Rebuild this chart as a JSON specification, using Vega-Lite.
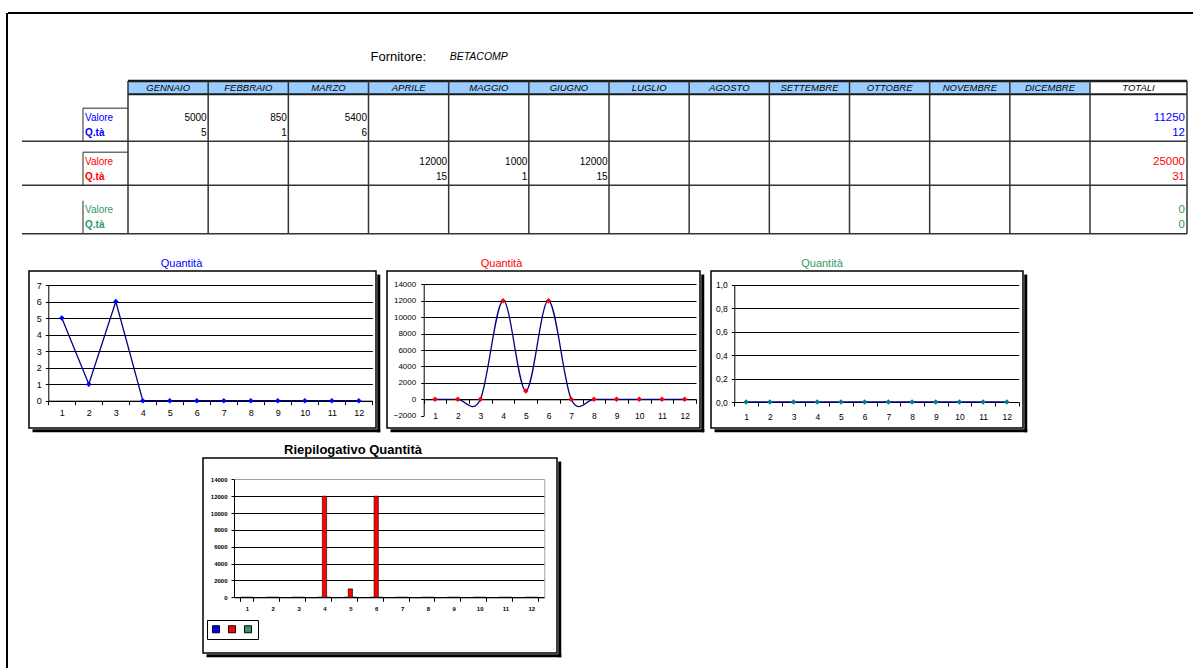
{
  "$schema": "https://vega.github.io/schema/vega-lite/v6.json",
  "background": "white",
  "padding": {"left": 6, "top": 12, "right": 0, "bottom": 0},
  "config": {
    "font": "Liberation Sans",
    "view": {"stroke": null},
    "axis": {"domainColor": "black", "tickColor": "black", "gridColor": "black", "labelColor": "black", "labelFont": "Liberation Sans", "domainWidth": 1, "tickWidth": 1, "gridWidth": 1},
    "title": {"font": "Liberation Sans"},
    "text": {"font": "Liberation Sans"}
  },
  "datasets": {
    "dati": [
      {"serie": 1, "mese": 1, "valore": 5000, "qta": 5, "grafico": 5},
      {"serie": 1, "mese": 2, "valore": 850, "qta": 1, "grafico": 1},
      {"serie": 1, "mese": 3, "valore": 5400, "qta": 6, "grafico": 6},
      {"serie": 1, "mese": 4, "valore": 0, "qta": 0, "grafico": 0},
      {"serie": 1, "mese": 5, "valore": 0, "qta": 0, "grafico": 0},
      {"serie": 1, "mese": 6, "valore": 0, "qta": 0, "grafico": 0},
      {"serie": 1, "mese": 7, "valore": 0, "qta": 0, "grafico": 0},
      {"serie": 1, "mese": 8, "valore": 0, "qta": 0, "grafico": 0},
      {"serie": 1, "mese": 9, "valore": 0, "qta": 0, "grafico": 0},
      {"serie": 1, "mese": 10, "valore": 0, "qta": 0, "grafico": 0},
      {"serie": 1, "mese": 11, "valore": 0, "qta": 0, "grafico": 0},
      {"serie": 1, "mese": 12, "valore": 0, "qta": 0, "grafico": 0},
      {"serie": 2, "mese": 1, "valore": 0, "qta": 0, "grafico": 0},
      {"serie": 2, "mese": 2, "valore": 0, "qta": 0, "grafico": 0},
      {"serie": 2, "mese": 3, "valore": 0, "qta": 0, "grafico": 0},
      {"serie": 2, "mese": 4, "valore": 12000, "qta": 15, "grafico": 12000},
      {"serie": 2, "mese": 5, "valore": 1000, "qta": 1, "grafico": 1000},
      {"serie": 2, "mese": 6, "valore": 12000, "qta": 15, "grafico": 12000},
      {"serie": 2, "mese": 7, "valore": 0, "qta": 0, "grafico": 0},
      {"serie": 2, "mese": 8, "valore": 0, "qta": 0, "grafico": 0},
      {"serie": 2, "mese": 9, "valore": 0, "qta": 0, "grafico": 0},
      {"serie": 2, "mese": 10, "valore": 0, "qta": 0, "grafico": 0},
      {"serie": 2, "mese": 11, "valore": 0, "qta": 0, "grafico": 0},
      {"serie": 2, "mese": 12, "valore": 0, "qta": 0, "grafico": 0},
      {"serie": 3, "mese": 1, "valore": 0, "qta": 0, "grafico": 0},
      {"serie": 3, "mese": 2, "valore": 0, "qta": 0, "grafico": 0},
      {"serie": 3, "mese": 3, "valore": 0, "qta": 0, "grafico": 0},
      {"serie": 3, "mese": 4, "valore": 0, "qta": 0, "grafico": 0},
      {"serie": 3, "mese": 5, "valore": 0, "qta": 0, "grafico": 0},
      {"serie": 3, "mese": 6, "valore": 0, "qta": 0, "grafico": 0},
      {"serie": 3, "mese": 7, "valore": 0, "qta": 0, "grafico": 0},
      {"serie": 3, "mese": 8, "valore": 0, "qta": 0, "grafico": 0},
      {"serie": 3, "mese": 9, "valore": 0, "qta": 0, "grafico": 0},
      {"serie": 3, "mese": 10, "valore": 0, "qta": 0, "grafico": 0},
      {"serie": 3, "mese": 11, "valore": 0, "qta": 0, "grafico": 0},
      {"serie": 3, "mese": 12, "valore": 0, "qta": 0, "grafico": 0}
    ],
    "colonne": [
      {"col": 1, "mese": "GENNAIO"}, {"col": 2, "mese": "FEBBRAIO"}, {"col": 3, "mese": "MARZO"},
      {"col": 4, "mese": "APRILE"}, {"col": 5, "mese": "MAGGIO"}, {"col": 6, "mese": "GIUGNO"},
      {"col": 7, "mese": "LUGLIO"}, {"col": 8, "mese": "AGOSTO"}, {"col": 9, "mese": "SETTEMBRE"},
      {"col": 10, "mese": "OTTOBRE"}, {"col": 11, "mese": "NOVEMBRE"}, {"col": 12, "mese": "DICEMBRE"},
      {"col": 13, "mese": "TOTALI"}
    ],
    "totali": [
      {"serie": 1, "valore": 11250, "qta": 12},
      {"serie": 2, "valore": 25000, "qta": 31},
      {"serie": 3, "valore": 0, "qta": 0}
    ],
    "serie": [{"serie": 1}, {"serie": 2}, {"serie": 3}],
    "fornitore": [{"etichetta": "Fornitore:", "nome": "BETACOMP"}]
  },
  "hconcat": [
    {"width": 2, "height": 660, "data": {"values": []}, "mark": "point", "view": {"fill": "black", "stroke": null}},
    {
      "vconcat": [
        {
          "width": 1186, "height": 229,
          "view": {"stroke": "black", "strokeWidth": 2, "strokeDash": [1186, 1700]},
          "layer": [
            {"data": {"values": [{}]}, "mark": {"type": "rect", "color": "#99CCFF"},
             "encoding": {
               "x": {"datum": 0, "type": "quantitative", "scale": {"domain": [-2, -1, 0, 12, 13], "range": [14, 75, 120, 1082, 1179], "nice": false, "zero": false}, "axis": null},
               "x2": {"datum": 12},
               "y": {"datum": -1, "type": "quantitative", "scale": {"domain": [-1, 0, 1, 2, 3], "range": [68, 81.3, 128.3, 172.3, 220.7], "nice": false, "zero": false}, "axis": null},
               "y2": {"datum": 0}}},
            {"data": {"values": [{}]}, "mark": {"type": "rule", "color": "#1a1a1a", "strokeWidth": 2.5},
             "encoding": {"x": {"datum": 0, "type": "quantitative", "axis": null}, "x2": {"datum": 13}, "y": {"datum": -1, "type": "quantitative", "axis": null}}},
            {"data": {"values": [{}]}, "mark": {"type": "rule", "color": "#1a1a1a", "strokeWidth": 2},
             "encoding": {"x": {"datum": 0, "type": "quantitative", "axis": null}, "x2": {"datum": 13}, "y": {"datum": 0, "type": "quantitative", "axis": null}}},
            {"data": {"name": "serie"}, "mark": {"type": "rule", "color": "#333333", "strokeWidth": 1.5},
             "encoding": {"x": {"datum": -2, "type": "quantitative", "axis": null}, "x2": {"datum": 13}, "y": {"field": "serie", "type": "quantitative", "axis": null}}},
            {"data": {"name": "colonne"}, "mark": {"type": "rule", "color": "#333333", "strokeWidth": 1.5},
             "encoding": {"x": {"field": "col", "type": "quantitative", "axis": null}, "y": {"datum": -1, "type": "quantitative", "axis": null}, "y2": {"datum": 3}}},
            {"data": {"values": [{}]}, "mark": {"type": "rule", "color": "#333333", "strokeWidth": 1.5},
             "encoding": {"x": {"datum": 0, "type": "quantitative", "axis": null}, "y": {"datum": -1, "type": "quantitative", "axis": null}, "y2": {"datum": 3}}},
            {"data": {"name": "serie"}, "mark": {"type": "tick", "orient": "vertical", "size": 33, "thickness": 1.5, "yOffset": -16.5, "color": "#333333"},
             "encoding": {"x": {"datum": -1, "type": "quantitative", "axis": null}, "y": {"field": "serie", "type": "quantitative", "axis": null}}},
            {"data": {"name": "serie"}, "transform": [{"filter": "datum.serie < 3"}], "mark": {"type": "tick", "orient": "horizontal", "size": 45, "thickness": 1.5, "yOffset": -33, "color": "#333333"},
             "encoding": {"x": {"datum": -0.5, "type": "quantitative", "axis": null}, "y": {"field": "serie", "type": "quantitative", "axis": null}}},
            {"data": {"name": "serie"}, "mark": {"type": "text", "align": "left", "baseline": "middle", "dx": 2, "dy": -23.5, "fontSize": 10},
             "encoding": {"x": {"datum": -1, "type": "quantitative", "axis": null}, "y": {"field": "serie", "type": "quantitative", "axis": null}, "text": {"value": "Valore"},
               "color": {"field": "serie", "type": "nominal", "scale": {"domain": [1, 2, 3], "range": ["#0000FF", "#FF0000", "#339966"]}, "legend": null}}},
            {"data": {"name": "serie"}, "mark": {"type": "text", "align": "left", "baseline": "middle", "dx": 2, "dy": -8.5, "fontSize": 10, "fontWeight": "bold"},
             "encoding": {"x": {"datum": -1, "type": "quantitative", "axis": null}, "y": {"field": "serie", "type": "quantitative", "axis": null}, "text": {"value": "Q.tà"},
               "color": {"field": "serie", "type": "nominal", "legend": null}}},
            {"data": {"name": "dati"}, "transform": [{"filter": "datum.valore > 0"}], "mark": {"type": "text", "align": "right", "baseline": "middle", "dx": -1.5, "dy": -23.5, "fontSize": 10, "color": "black"},
             "encoding": {"x": {"field": "mese", "type": "quantitative", "axis": null}, "y": {"field": "serie", "type": "quantitative", "axis": null}, "text": {"field": "valore", "type": "quantitative", "format": "d"}}},
            {"data": {"name": "dati"}, "transform": [{"filter": "datum.valore > 0"}], "mark": {"type": "text", "align": "right", "baseline": "middle", "dx": -1.5, "dy": -8.5, "fontSize": 10, "color": "black"},
             "encoding": {"x": {"field": "mese", "type": "quantitative", "axis": null}, "y": {"field": "serie", "type": "quantitative", "axis": null}, "text": {"field": "qta", "type": "quantitative", "format": "d"}}},
            {"data": {"name": "totali"}, "mark": {"type": "text", "align": "right", "baseline": "middle", "dx": -2, "dy": -23.5, "fontSize": 11.5},
             "encoding": {"x": {"datum": 13, "type": "quantitative", "axis": null}, "y": {"field": "serie", "type": "quantitative", "axis": null}, "text": {"field": "valore", "type": "quantitative", "format": "d"},
               "color": {"field": "serie", "type": "nominal", "legend": null}}},
            {"data": {"name": "totali"}, "mark": {"type": "text", "align": "right", "baseline": "middle", "dx": -2, "dy": -8.5, "fontSize": 11.5},
             "encoding": {"x": {"datum": 13, "type": "quantitative", "axis": null}, "y": {"field": "serie", "type": "quantitative", "axis": null}, "text": {"field": "qta", "type": "quantitative", "format": "d"},
               "color": {"field": "serie", "type": "nominal", "legend": null}}},
            {"data": {"name": "colonne"}, "transform": [{"filter": "datum.col <= 12"}], "mark": {"type": "text", "align": "center", "baseline": "middle", "dx": -40, "fontSize": 9.5, "fontStyle": "italic", "color": "black"},
             "encoding": {"x": {"field": "col", "type": "quantitative", "axis": null}, "y": {"datum": -0.5, "type": "quantitative", "axis": null}, "text": {"field": "mese", "type": "nominal"}}},
            {"data": {"name": "colonne"}, "transform": [{"filter": "datum.col == 13"}], "mark": {"type": "text", "align": "center", "baseline": "middle", "dx": -48.5, "fontSize": 9.5, "fontStyle": "italic", "color": "black"},
             "encoding": {"x": {"field": "col", "type": "quantitative", "axis": null}, "y": {"datum": -0.5, "type": "quantitative", "axis": null}, "text": {"field": "mese", "type": "nominal"}}},
            {"data": {"name": "fornitore"}, "mark": {"type": "text", "align": "left", "baseline": "middle", "dx": 2, "dy": -24, "fontSize": 13, "color": "black"},
             "encoding": {"x": {"datum": 3, "type": "quantitative", "axis": null}, "y": {"datum": -1, "type": "quantitative", "axis": null}, "text": {"field": "etichetta", "type": "nominal"}}},
            {"data": {"name": "fornitore"}, "mark": {"type": "text", "align": "left", "baseline": "middle", "dx": 1, "dy": -24, "fontSize": 10.5, "fontStyle": "italic", "color": "black"},
             "encoding": {"x": {"datum": 4, "type": "quantitative", "axis": null}, "y": {"datum": -1, "type": "quantitative", "axis": null}, "text": {"field": "nome", "type": "nominal"}}}
          ]
        },
        {
          "vconcat": [
            {
              "hconcat": [
                {"width": 10, "height": 157, "data": {"values": []}, "mark": "point"},
                {
                  "width": 347, "height": 157,
                  "view": {"stroke": "black", "strokeWidth": 1.5},
                  "title": {"text": "Quantità", "color": "#0000FF", "fontSize": 11, "fontWeight": "normal", "anchor": "middle", "frame": "group", "dx": -21, "baseline": "bottom", "offset": -9},
                  "data": {"name": "dati"},
                  "transform": [{"filter": "datum.serie == 1"}],
                  "layer": [
                    {
                      "encoding": {
                        "x": {"field": "mese", "type": "ordinal", "scale": {"type": "band", "range": [19.3, 343.3], "paddingInner": 0, "paddingOuter": 0},
                              "axis": {"title": null, "orient": "bottom", "offset": -27.3, "labelAngle": 0, "tickBand": "extent", "tickSize": 4, "labelPadding": 4, "labelFontSize": 9, "grid": false}},
                        "y": {"field": "grafico", "type": "quantitative", "scale": {"domain": [0, 7], "range": [129.7, 14], "nice": false, "zero": false},
                              "axis": {"title": null, "orient": "left", "offset": -19.3, "values": [0, 1, 2, 3, 4, 5, 6, 7], "grid": true, "tickSize": 3, "labelPadding": 4, "labelFontSize": 9, "format": "d"}}
                      },
                      "layer": [
                        {"mark": {"type": "line", "color": "#000080", "strokeWidth": 1.3}},
                        {"mark": {"type": "point", "shape": "diamond", "filled": true, "color": "#0000FF", "size": 30, "opacity": 1}}
                      ]
                    },
                    {
                      "mark": {"type": "point", "opacity": 0, "clip": true},
                      "encoding": {
                        "x": {"field": "grafico", "type": "quantitative", "scale": {"domain": [0, 7], "range": [3, 350.75], "nice": false, "zero": false},
                              "axis": {"title": null, "orient": "bottom", "offset": 2.25, "domainWidth": 3, "domainColor": "black", "labels": false, "ticks": false, "grid": false}},
                        "y": {"field": "grafico", "type": "quantitative", "scale": {"domain": [0, 7], "range": [160.75, 3], "nice": false, "zero": false},
                              "axis": {"title": null, "orient": "right", "offset": 2.25, "domainWidth": 3, "domainColor": "black", "labels": false, "ticks": false, "grid": false}}
                      }
                    }
                  ],
                  "resolve": {"scale": {"x": "independent", "y": "independent"}, "axis": {"x": "independent", "y": "independent"}}
                },
                {
                  "width": 313, "height": 157,
                  "view": {"stroke": "black", "strokeWidth": 1.5},
                  "title": {"text": "Quantità", "color": "#FF0000", "fontSize": 11, "fontWeight": "normal", "anchor": "middle", "frame": "group", "dx": -42, "baseline": "bottom", "offset": -9},
                  "data": {"name": "dati"},
                  "transform": [{"filter": "datum.serie == 2"}],
                  "layer": [
                    {
                      "encoding": {
                        "x": {"field": "mese", "type": "ordinal", "scale": {"type": "band", "range": [36.7, 309], "paddingInner": 0, "paddingOuter": 0},
                              "axis": {"title": null, "orient": "bottom", "offset": -28.7, "labelAngle": 0, "tickBand": "extent", "tickSize": 4, "labelPadding": 8, "labelFontSize": 8.5, "grid": false}},
                        "y": {"field": "grafico", "type": "quantitative", "scale": {"domain": [-2000, 14000], "range": [144.7, 13.3], "nice": false, "zero": false},
                              "axis": {"title": null, "orient": "left", "offset": -36.7, "values": [-2000, 0, 2000, 4000, 6000, 8000, 10000, 12000, 14000], "grid": true, "tickSize": 3, "labelPadding": 5, "labelFontSize": 8, "format": "d",
                                       "gridColor": {"condition": {"test": "datum.value < 0", "value": "transparent"}, "value": "black"}}}
                      },
                      "layer": [
                        {"mark": {"type": "line", "color": "#000080", "strokeWidth": 1.3, "interpolate": "cardinal"}},
                        {"mark": {"type": "point", "shape": "diamond", "filled": true, "color": "#FF0000", "size": 30, "opacity": 1}}
                      ]
                    },
                    {
                      "mark": {"type": "point", "opacity": 0, "clip": true},
                      "encoding": {
                        "x": {"field": "grafico", "type": "quantitative", "scale": {"domain": [-2000, 14000], "range": [3, 316.75], "nice": false, "zero": false},
                              "axis": {"title": null, "orient": "bottom", "offset": 2.25, "domainWidth": 3, "domainColor": "black", "labels": false, "ticks": false, "grid": false}},
                        "y": {"field": "grafico", "type": "quantitative", "scale": {"domain": [-2000, 14000], "range": [160.75, 3], "nice": false, "zero": false},
                              "axis": {"title": null, "orient": "right", "offset": 2.25, "domainWidth": 3, "domainColor": "black", "labels": false, "ticks": false, "grid": false}}
                      }
                    }
                  ],
                  "resolve": {"scale": {"x": "independent", "y": "independent"}, "axis": {"x": "independent", "y": "independent"}}
                },
                {
                  "width": 312, "height": 157,
                  "view": {"stroke": "black", "strokeWidth": 1.5},
                  "title": {"text": "Quantità", "color": "#339966", "fontSize": 11, "fontWeight": "normal", "anchor": "middle", "frame": "group", "dx": -45, "baseline": "bottom", "offset": -9},
                  "data": {"name": "dati"},
                  "transform": [{"filter": "datum.serie == 3"}],
                  "layer": [
                    {
                      "encoding": {
                        "x": {"field": "mese", "type": "ordinal", "scale": {"type": "band", "range": [23.3, 307.7], "paddingInner": 0, "paddingOuter": 0},
                              "axis": {"title": null, "orient": "bottom", "offset": -26, "labelAngle": 0, "tickBand": "extent", "tickSize": 4, "labelPadding": 6, "labelFontSize": 8.5, "grid": false}},
                        "y": {"field": "grafico", "type": "quantitative", "scale": {"domain": [0, 1], "range": [131, 13.7], "nice": false, "zero": false},
                              "axis": {"title": null, "orient": "left", "offset": -23.3, "values": [0, 0.2, 0.4, 0.6, 0.8, 1], "grid": true, "tickSize": 3, "labelPadding": 4, "labelFontSize": 8.5, "labelExpr": "replace(datum.label, '.', ',')"}}
                      },
                      "layer": [
                        {"mark": {"type": "line", "color": "#000080", "strokeWidth": 1.3}},
                        {"mark": {"type": "point", "shape": "diamond", "filled": true, "color": "#008080", "size": 30, "opacity": 1}}
                      ]
                    },
                    {
                      "mark": {"type": "point", "opacity": 0, "clip": true},
                      "encoding": {
                        "x": {"field": "grafico", "type": "quantitative", "scale": {"domain": [0, 1], "range": [3, 315.75], "nice": false, "zero": false},
                              "axis": {"title": null, "orient": "bottom", "offset": 2.25, "domainWidth": 3, "domainColor": "black", "labels": false, "ticks": false, "grid": false}},
                        "y": {"field": "grafico", "type": "quantitative", "scale": {"domain": [0, 1], "range": [160.75, 3], "nice": false, "zero": false},
                              "axis": {"title": null, "orient": "right", "offset": 2.25, "domainWidth": 3, "domainColor": "black", "labels": false, "ticks": false, "grid": false}}
                      }
                    }
                  ],
                  "resolve": {"scale": {"x": "independent", "y": "independent"}, "axis": {"x": "independent", "y": "independent"}}
                }
              ],
              "spacing": 11,
              "bounds": "flush"
            },
            {
              "hconcat": [
                {"width": 195, "height": 195, "data": {"values": []}, "mark": "point"},
                {
                  "width": 354, "height": 195,
                  "view": {"stroke": "black", "strokeWidth": 1.5},
                  "title": {"text": "Riepilogativo Quantità", "color": "black", "fontSize": 13, "fontWeight": "bold", "anchor": "middle", "frame": "group", "dx": -27, "baseline": "bottom", "offset": -12},
                  "data": {"name": "dati"},
                  "layer": [
                    {
                      "encoding": {
                        "x": {"field": "mese", "type": "ordinal", "scale": {"type": "band", "range": [31, 341.3], "paddingInner": 0.5, "paddingOuter": 0.25},
                              "axis": {"title": null, "orient": "bottom", "offset": -55.7, "labelAngle": 0, "tickBand": "extent", "tickSize": 4, "labelPadding": 4, "labelFontSize": 6, "labelFontWeight": "bold", "grid": false}}
                      },
                      "layer": [
                        {
                          "mark": {"type": "bar", "stroke": "black", "strokeWidth": 0.6},
                          "encoding": {
                            "xOffset": {"field": "serie", "type": "nominal"},
                            "y": {"field": "grafico", "type": "quantitative", "scale": {"domain": [0, 14000], "range": [139.3, 21.3], "nice": false, "zero": false},
                                  "axis": {"title": null, "orient": "left", "offset": -31, "values": [0, 2000, 4000, 6000, 8000, 10000, 12000, 14000], "grid": true, "tickSize": 3, "labelPadding": 4, "labelFontSize": 6, "labelFontWeight": "bold", "format": "d",
                                           "gridColor": {"condition": {"test": "datum.value == 14000", "value": "#A0A0A0"}, "value": "black"}}},
                            "color": {"field": "serie", "type": "nominal", "scale": {"domain": [1, 2, 3], "range": ["#0000FF", "#FF0000", "#339966"]},
                                      "legend": {"orient": "none", "legendX": 4, "legendY": 162, "direction": "horizontal", "columns": 3, "title": null, "labelExpr": "''", "labelOffset": 0, "labelLimit": 1,
                                                 "symbolType": "square", "symbolSize": 49, "symbolStrokeColor": "black", "symbolStrokeWidth": 1, "symbolOpacity": 1,
                                                 "strokeColor": "black", "fillColor": "white", "padding": 4, "columnPadding": 4}}
                          }
                        },
                        {
                          "mark": {"type": "point", "opacity": 0, "clip": true},
                          "encoding": {
                            "y": {"field": "grafico", "type": "quantitative",
                                  "axis": {"title": null, "orient": "right", "offset": -12.7, "domainColor": "#A0A0A0", "labels": false, "ticks": false, "grid": false}}
                          }
                        }
                      ],
                      "resolve": {"axis": {"y": "independent"}}
                    },
                    {
                      "mark": {"type": "point", "opacity": 0, "clip": true},
                      "encoding": {
                        "x": {"field": "grafico", "type": "quantitative", "scale": {"domain": [0, 14000], "range": [3, 357.75], "nice": false, "zero": false},
                              "axis": {"title": null, "orient": "bottom", "offset": 2.25, "domainWidth": 3, "domainColor": "black", "labels": false, "ticks": false, "grid": false}},
                        "y": {"field": "grafico", "type": "quantitative", "scale": {"domain": [0, 14000], "range": [198.75, 3], "nice": false, "zero": false},
                              "axis": {"title": null, "orient": "right", "offset": 2.25, "domainWidth": 3, "domainColor": "black", "labels": false, "ticks": false, "grid": false}}
                      }
                    }
                  ],
                  "resolve": {"scale": {"x": "independent", "y": "independent"}, "axis": {"x": "independent", "y": "independent"}}
                }
              ],
              "spacing": 0,
              "bounds": "flush",
              "resolve": {"scale": {"color": "independent"}, "legend": {"color": "independent"}}
            }
          ],
          "spacing": 12,
          "bounds": "full",
          "resolve": {"scale": {"color": "independent"}, "legend": {"color": "independent"}}
        }
      ],
      "spacing": 14,
      "bounds": "full",
      "resolve": {"scale": {"color": "independent"}, "legend": {"color": "independent"}}
    }
  ],
  "spacing": 0,
  "bounds": "flush",
  "resolve": {"scale": {"color": "independent"}, "legend": {"color": "independent"}}
}
